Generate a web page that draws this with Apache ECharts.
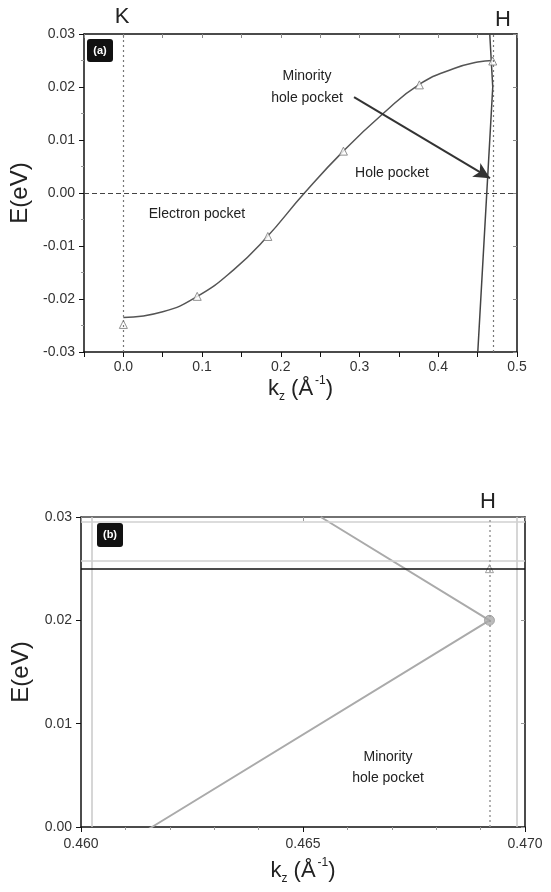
<!DOCTYPE html>
<html>
<head>
<meta charset="utf-8">
<script src="https://cdn.jsdelivr.net/npm/echarts@6/dist/echarts.min.js"></script>
<style>
html,body{margin:0;padding:0;background:#fff;}
#c{width:551px;height:892px;}
</style>
</head>
<body>
<div id="c"></div>
<script>
// ---- Panel (a) data ----
const kzTriA = [0, 0.0938, 0.1835, 0.2795, 0.376, 0.4692];
const eTriA  = [-0.0248, -0.0195, -0.0082, 0.0079, 0.0204, 0.0249];
const kzFitA = [0, 0.05, 0.094, 0.14, 0.18, 0.23, 0.28, 0.33, 0.376, 0.42, 0.45, 0.4692];
const eFitA  = [-0.0235, -0.0224, -0.0195, -0.0145, -0.0087, 0.0, 0.008, 0.0150, 0.0205, 0.0235, 0.0247, 0.025];
const kzHole = [0.4502, 0.4616, 0.4692, 0.4654];
const eHole  = [-0.03, 0.0, 0.020, 0.030];
const kK = 0, kH = 0.4692;
const arrowFrom = [0.293, 0.0181], arrowTo = [0.4657, 0.0028];
// ---- Panel (b) data ----
const kzTriB = [0.4692], eTriB = [0.025];
const kzCircB = [0.4692], eCircB = [0.020];
const eBandB = 0.025;
const frameGrayX = [0.46025, 0.46982];
const frameGrayY = [0.02574, 0.02952];
// tick labels
const xTicksA = ['0.0','0.1','0.2','0.3','0.4','0.5'];
const xTicksB = ['0.460','0.465','0.470'];

const zip = (a,b) => a.map((v,i)=>[v,b[i]]);
const FF = "'Liberation Sans', Arial, sans-serif";
const axisLineStyle = {color:'#111', width:1.5};
const labelStyle = {fontFamily:FF, fontSize:14, color:'#333'};
const nameRich = {
  k:{fontFamily:FF, fontSize:22, color:'#222', lineHeight:28},
  s:{fontFamily:FF, fontSize:12, color:'#222', lineHeight:28, verticalAlign:'bottom'},
  p:{fontFamily:FF, fontSize:12, color:'#222', lineHeight:28, verticalAlign:'top', padding:[0,0,0,2]}
};
const kzName = '{k|k}{s|z}{k| (Å}{p|-1}{k|)}';

function fmtX(v, dec, step){ const r = Math.round(v/step); return Math.abs(v - r*step) < 1e-9 ? v.toFixed(dec) : ''; }

const chart = echarts.init(document.getElementById('c'), null, {renderer:'canvas'});
const option = {
  animation:false,
  backgroundColor:'#fff',
  grid:[
    {left:84, top:34, width:433, height:318},
    {left:81, top:517, width:444, height:310}
  ],
  xAxis:[
    {gridIndex:0, type:'value', min:-0.05, max:0.5, interval:0.05, position:'bottom',
     axisLine:{show:true, onZero:false, lineStyle:axisLineStyle},
     axisTick:{show:true, length:5, lineStyle:{color:'#111'}},
     axisLabel:Object.assign({margin:8, formatter:v=>{const s=fmtX(v,1,0.1); return xTicksA.includes(s)?s:'';}}, labelStyle),
     splitLine:{show:false},
     name:kzName, nameLocation:'middle', nameGap:22, nameTextStyle:{rich:nameRich}},
    {gridIndex:0, type:'value', min:-0.05, max:0.5, interval:0.05, position:'top',
     axisLine:{show:true, onZero:false, lineStyle:axisLineStyle},
     axisTick:{show:true, inside:true, length:4, lineStyle:{color:'#888'}},
     axisLabel:{show:false}, splitLine:{show:false}},
    {gridIndex:1, type:'value', min:0.46, max:0.47, interval:0.005, position:'bottom',
     axisLine:{show:true, onZero:false, lineStyle:axisLineStyle},
     axisTick:{show:true, length:5, lineStyle:{color:'#111'}},
     minorTick:{show:true, splitNumber:5, length:3, lineStyle:{color:'#999'}},
     axisLabel:Object.assign({margin:10, formatter:v=>{const s=fmtX(v,3,0.005); return xTicksB.includes(s)?s:'';}}, labelStyle),
     splitLine:{show:false},
     name:kzName, nameLocation:'middle', nameGap:30, nameTextStyle:{rich:nameRich}},
    {gridIndex:1, type:'value', min:0.46, max:0.47, interval:0.005, position:'top',
     axisLine:{show:true, onZero:false, lineStyle:{color:'#444', width:1.5}},
     axisTick:{show:true, inside:true, length:4, lineStyle:{color:'#999'}},
     axisLabel:{show:false}, splitLine:{show:false}}
  ],
  yAxis:[
    {gridIndex:0, type:'value', min:-0.03, max:0.03, interval:0.01, position:'left',
     axisLine:{show:true, onZero:false, lineStyle:axisLineStyle},
     axisTick:{show:true, length:5, lineStyle:{color:'#111'}},
     minorTick:{show:true, splitNumber:2, length:3, lineStyle:{color:'#999'}},
     axisLabel:Object.assign({margin:9, formatter:v=>v.toFixed(2)}, labelStyle),
     splitLine:{show:false},
     name:'E(eV)', nameLocation:'middle', nameGap:47,
     nameTextStyle:{fontFamily:FF, fontSize:24, color:'#222'}},
    {gridIndex:0, type:'value', min:-0.03, max:0.03, interval:0.01, position:'right',
     axisLine:{show:true, onZero:false, lineStyle:axisLineStyle},
     axisTick:{show:true, inside:true, length:4, lineStyle:{color:'#888'}},
     axisLabel:{show:false}, splitLine:{show:false}},
    {gridIndex:1, type:'value', min:0, max:0.03, interval:0.01, position:'left',
     axisLine:{show:true, onZero:false, lineStyle:axisLineStyle},
     axisTick:{show:true, length:5, lineStyle:{color:'#111'}},
     axisLabel:Object.assign({margin:9, formatter:v=>v.toFixed(2)}, labelStyle),
     splitLine:{show:false},
     name:'E(eV)', nameLocation:'middle', nameGap:44,
     nameTextStyle:{fontFamily:FF, fontSize:24, color:'#222'}},
    {gridIndex:1, type:'value', min:0, max:0.03, interval:0.01, position:'right',
     axisLine:{show:true, onZero:false, lineStyle:axisLineStyle},
     axisTick:{show:true, inside:true, length:4, lineStyle:{color:'#999'}},
     axisLabel:{show:false}, splitLine:{show:false}}
  ],
  series:[
    {name:'fitA', type:'line', xAxisIndex:0, yAxisIndex:0, data:zip(kzFitA,eFitA), smooth:0.5,
     showSymbol:false, lineStyle:{color:'#555', width:1.5}, z:3,
     markLine:{silent:true, precision:6, symbol:['none','none'], label:{show:false},
       data:[
         {xAxis:kK, lineStyle:{color:'#777', type:[2,3], width:1.2}},
         {xAxis:kH, lineStyle:{color:'#777', type:[2,3], width:1.2}},
         {yAxis:0, lineStyle:{color:'#444', type:[5,3], width:1.2}}
       ]}},
    {name:'holeA', type:'line', xAxisIndex:0, yAxisIndex:0, data:zip(kzHole,eHole),
     showSymbol:false, lineStyle:{color:'#444', width:1.5}, clip:true, z:3,
     markLine:{silent:true, precision:6, symbol:['none','arrow'], symbolSize:[12,16], label:{show:false},
       lineStyle:{color:'#333', width:2, type:'solid'},
       data:[[{coord:arrowFrom},{coord:arrowTo}]]}},
    {name:'triA', type:'scatter', xAxisIndex:0, yAxisIndex:0, data:zip(kzTriA,eTriA),
     symbol:'triangle', symbolSize:8, itemStyle:{color:'#fff', borderColor:'#777', borderWidth:1}, z:4},
    {name:'holeB', type:'line', xAxisIndex:2, yAxisIndex:2, data:zip(kzHole,eHole),
     showSymbol:false, lineStyle:{color:'#aaa', width:2}, clip:true, z:3,
     markLine:{silent:true, precision:6, symbol:['none','none'], label:{show:false},
       data:[
         {xAxis:frameGrayX[0], lineStyle:{color:'#c8c8c8', type:'solid', width:1.5}},
         {xAxis:frameGrayX[1], lineStyle:{color:'#c8c8c8', type:'solid', width:1.5}},
         {yAxis:frameGrayY[0], lineStyle:{color:'#d0d0d0', type:'solid', width:1.5}},
         {yAxis:frameGrayY[1], lineStyle:{color:'#d0d0d0', type:'solid', width:1.5}},
         {xAxis:kH, lineStyle:{color:'#999', type:[2,3], width:1.5}},
         {yAxis:eBandB, lineStyle:{color:'#111', type:'solid', width:1.5}}
       ]}},
    {name:'triB', type:'scatter', xAxisIndex:2, yAxisIndex:2, data:zip(kzTriB,eTriB),
     symbol:'triangle', symbolSize:8, itemStyle:{color:'#fff', borderColor:'#888', borderWidth:1}, z:4},
    {name:'circB', type:'scatter', xAxisIndex:2, yAxisIndex:2, data:zip(kzCircB,eCircB),
     symbol:'circle', symbolSize:10, itemStyle:{color:'#aaa', borderColor:'#999', borderWidth:1}, z:4}
  ],
  graphic:[
    {type:'text', x:122, y:17, style:{text:'K', font:"22px "+FF, fill:'#222', align:'center', verticalAlign:'middle'}},
    {type:'text', x:503, y:20, style:{text:'H', font:"22px "+FF, fill:'#222', align:'center', verticalAlign:'middle'}},
    {type:'text', x:488, y:502, style:{text:'H', font:"22px "+FF, fill:'#222', align:'center', verticalAlign:'middle'}},
    {type:'rect', shape:{x:87, y:39, width:26, height:23, r:3}, style:{fill:'#111'}},
    {type:'text', x:100, y:51, style:{text:'(a)', font:"bold 11px "+FF, fill:'#fff', align:'center', verticalAlign:'middle'}},
    {type:'rect', shape:{x:97, y:523, width:26, height:24, r:3}, style:{fill:'#111'}},
    {type:'text', x:110, y:535, style:{text:'(b)', font:"bold 11px "+FF, fill:'#fff', align:'center', verticalAlign:'middle'}},
    {type:'text', x:307, y:76, style:{text:'Minority', font:"14px "+FF, fill:'#222', align:'center', verticalAlign:'middle'}},
    {type:'text', x:307, y:98, style:{text:'hole pocket', font:"14px "+FF, fill:'#222', align:'center', verticalAlign:'middle'}},
    {type:'text', x:392, y:173, style:{text:'Hole pocket', font:"14px "+FF, fill:'#222', align:'center', verticalAlign:'middle'}},
    {type:'text', x:197, y:214, style:{text:'Electron pocket', font:"14px "+FF, fill:'#222', align:'center', verticalAlign:'middle'}},
    {type:'text', x:388, y:757, style:{text:'Minority', font:"14px "+FF, fill:'#222', align:'center', verticalAlign:'middle'}},
    {type:'text', x:388, y:778, style:{text:'hole pocket', font:"14px "+FF, fill:'#222', align:'center', verticalAlign:'middle'}}
  ]
};
chart.setOption(option);
</script>
</body>
</html>
